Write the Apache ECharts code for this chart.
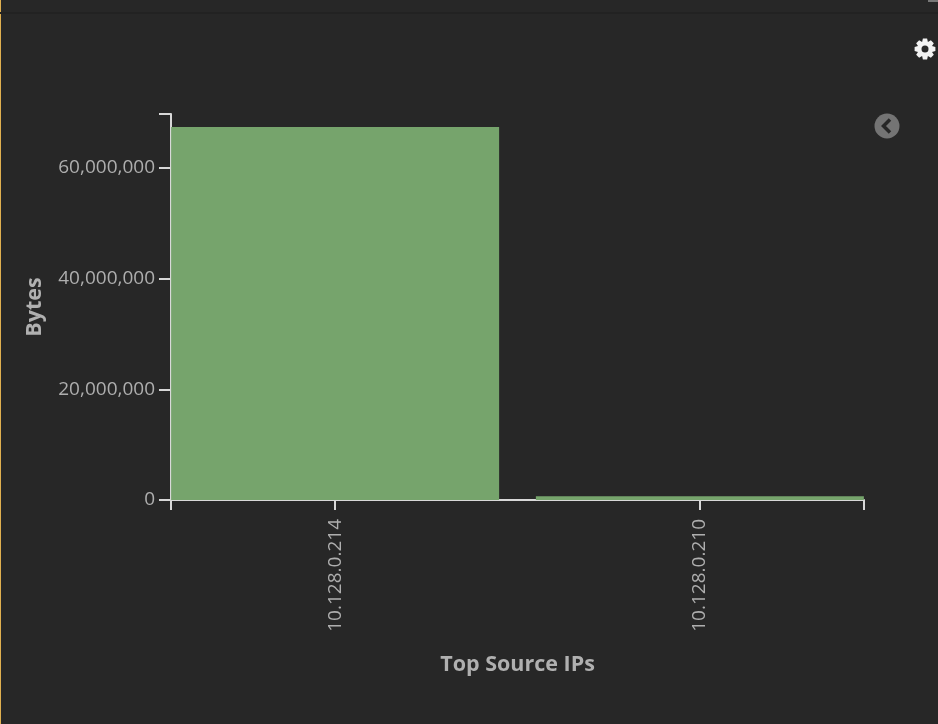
<!DOCTYPE html>
<html><head><meta charset="utf-8">
<style>html,body{margin:0;padding:0;background:#272727}#c{width:938px;height:724px}</style>
<script src="https://cdn.jsdelivr.net/npm/echarts@6/dist/echarts.min.js"></script>
</head><body><div id="c"></div>
<script>
const categories = ['10.128.0.214', '10.128.0.210'];
const bytes = [67400000, 700000];
const yMax = 69760000;
const yTicks = [0, 20000000, 40000000, 60000000];
const xName = 'Top Source IPs';
const yName = 'Bytes';

const FONT = '"Open Sans"';
const chart = echarts.init(document.getElementById('c'), null, {renderer: 'canvas'});
// eight-toothed cog outline, decorative icon
const gearPoints = [];
for (let i = 0; i < 8; i++) {
  const a = i * Math.PI / 4 - Math.PI / 2;
  [[-0.39, 7.6], [-0.2, 10.6], [0.2, 10.6], [0.39, 7.6]].forEach(([d, r]) => {
    gearPoints.push([11 + r * Math.cos(a + d), 11 + r * Math.sin(a + d)]);
  });
}
chart.setOption({
  backgroundColor: '#272727',
  animation: false,
  grid: {left: 171, right: 74, top: 114, bottom: 224, containLabel: false},
  xAxis: {
    type: 'value', min: -0.45, max: 1.45,
    name: xName, nameLocation: 'middle', nameGap: 154,
    nameTextStyle: {color: '#b0b0b0', fontFamily: FONT, fontWeight: 'bold', fontSize: 21.5},
    axisLine: {show: true, onZero: false, lineStyle: {color: '#d8d8d8', width: 2}},
    axisTick: {show: true, length: 10, customValues: [-0.45, 0, 1, 1.45], lineStyle: {color: '#d8d8d8', width: 2}},
    axisLabel: {
      rotate: 90, margin: 19, color: '#aeaeae', fontFamily: FONT, fontSize: 19, padding: [0, 0, 4, 0],
      customValues: [0, 1], formatter: v => categories[v]
    },
    splitLine: {show: false}
  },
  yAxis: {
    type: 'value', min: 0, max: yMax,
    name: yName, nameLocation: 'middle', nameGap: 125, nameRotate: 90,
    nameTextStyle: {color: '#b0b0b0', fontFamily: FONT, fontWeight: 'bold', fontSize: 21.5},
    axisLine: {show: true, onZero: false, lineStyle: {color: '#d8d8d8', width: 2}},
    axisTick: {show: true, length: 12, customValues: yTicks.concat([yMax]), lineStyle: {color: '#d8d8d8', width: 2}},
    axisLabel: {
      margin: 16, color: '#aeaeae', fontFamily: FONT, fontSize: 19, padding: [4, 0, 0, 0],
      customValues: yTicks, formatter: v => v.toLocaleString('en-US')
    },
    splitLine: {show: false}
  },
  series: [{
    type: 'bar', barWidth: 328, z: 1,
    itemStyle: {color: '#76a46c'},
    data: bytes.map((v, i) => [i, v])
  }],
  graphic: [
    {type: 'rect', x: 0, y: 0, shape: {x: 0, y: 0, width: 1, height: 724}, style: {fill: '#e0b050'}, silent: true},
    {type: 'rect', x: 0, y: 12, shape: {x: 0, y: 0, width: 938, height: 2}, style: {fill: '#222222'}, silent: true},
    {type: 'rect', x: 928, y: 0, shape: {x: 0, y: 0, width: 10, height: 2}, style: {fill: '#777777'}, silent: true},
    {type: 'polygon', x: 914, y: 38, shape: {points: gearPoints}, style: {fill: '#f2f2f2'}, silent: true},
    {type: 'circle', x: 925, y: 49, shape: {cx: 0, cy: 0, r: 3.5}, style: {fill: '#272727'}, silent: true},
    {type: 'circle', x: 887, y: 126, shape: {cx: 0, cy: 0, r: 12.5}, style: {fill: '#747474'}, silent: true},
    {type: 'polyline', x: 882, y: 119.5, shape: {points: [[8, 0], [1.5, 6.5], [8, 13]]}, style: {stroke: '#272727', lineWidth: 3.5, fill: null}, silent: true}
  ]
});
</script></body></html>
